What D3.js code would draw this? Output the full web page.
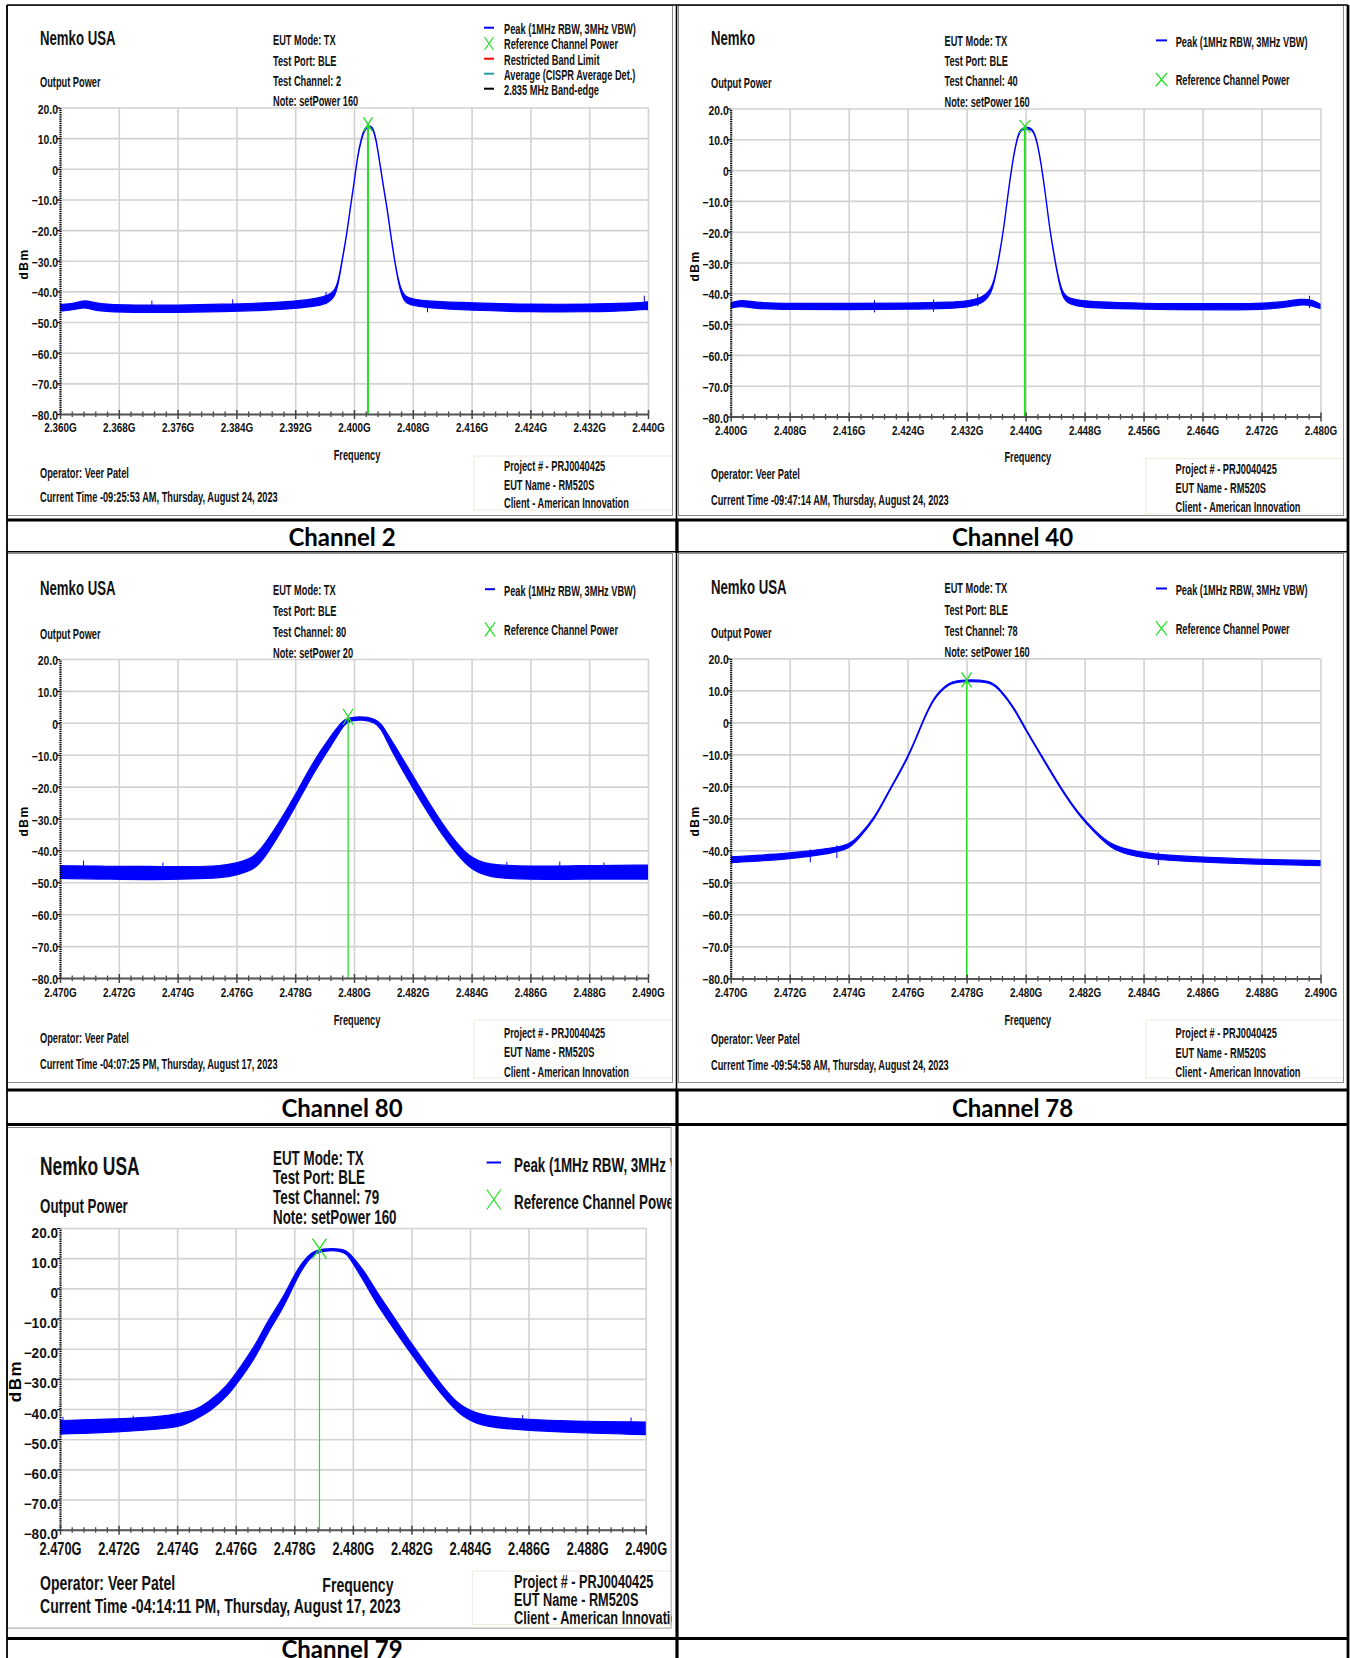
<!DOCTYPE html>
<html>
<head>
<meta charset="utf-8">
<script src="https://d3js.org/d3.v7.min.js"></script>
<style>
body { margin: 0; background: #fff; }
svg { display: block; font-family: "Liberation Sans", Arial, sans-serif; }
</style>
</head>
<body>
<div id="page"></div>
<script>
// ---------- values ----------
var yTicks = [20, 10, 0, -10, -20, -30, -40, -50, -60, -70, -80];
var ch2Ticks = [2.360, 2.368, 2.376, 2.384, 2.392, 2.400, 2.408, 2.416, 2.424, 2.432, 2.440];
var ch40Ticks = [2.400, 2.408, 2.416, 2.424, 2.432, 2.440, 2.448, 2.456, 2.464, 2.472, 2.480];
var topBandTicks = [2.470, 2.472, 2.474, 2.476, 2.478, 2.480, 2.482, 2.484, 2.486, 2.488, 2.490];

// peak trace: frequency (GHz), upper and lower edge of the noisy trace (dBm)
var ch2Freq = [2.360, 2.362, 2.3635, 2.365, 2.370, 2.376, 2.382, 2.388, 2.392, 2.395, 2.3965, 2.3975, 2.398, 2.3985, 2.399, 2.3995, 2.400, 2.4005, 2.401, 2.4015, 2.402, 2.4025, 2.403, 2.4035, 2.404, 2.4045, 2.405, 2.4055, 2.406, 2.4065, 2.407, 2.408, 2.410, 2.416, 2.424, 2.432, 2.438, 2.4395, 2.440];
var ch2Hi = [-44.3, -44.0, -42.6, -44.2, -44.5, -44.5, -44.2, -43.8, -43.2, -42.3, -41.3, -39.6, -35.0, -28.0, -21.4, -12.4, -4.5, 4.6, 10.2, 13.6, 14.0, 14.0, 10.2, 2.3, -5.6, -12.4, -21.4, -29.3, -36.0, -40.0, -41.7, -42.5, -43.2, -43.8, -44.2, -44.2, -43.8, -43.5, -43.4];
var ch2Lo = [-46.4, -46.0, -45.0, -46.6, -46.9, -46.9, -46.6, -46.2, -45.6, -44.8, -43.8, -41.5, -35.8, -28.6, -21.9, -12.9, -5.0, 4.0, 9.6, 13.0, 13.5, 13.5, 9.6, 1.8, -6.1, -12.9, -21.9, -29.8, -36.6, -41.5, -43.8, -44.6, -45.4, -46.2, -46.7, -46.7, -46.3, -45.8, -46.0];
var ch2Spikes = [[2.3725, -43.0], [2.3835, -42.6], [2.3962, -40.2], [2.4100, -42.8], [2.4395, -41.4]];
var ch2Marker = [2.4019, 14.5];

var ch40Freq = [2.400, 2.4015, 2.403, 2.408, 2.416, 2.424, 2.430, 2.432, 2.434, 2.4353, 2.4359, 2.4365, 2.4371, 2.4376, 2.4382, 2.4388, 2.4393, 2.4399, 2.4409, 2.4415, 2.4421, 2.4427, 2.4432, 2.4438, 2.4444, 2.445, 2.4459, 2.4477, 2.452, 2.460, 2.468, 2.474, 2.4775, 2.479, 2.480];
var ch40Hi = [-43.1, -42.0, -43.0, -43.3, -43.3, -43.2, -42.9, -42.5, -41.6, -38.9, -34.4, -26.6, -17.7, -7.6, 2.5, 10.3, 13.4, 13.9, 13.9, 10.3, 2.5, -7.6, -17.7, -26.6, -34.4, -40.0, -41.7, -42.5, -43.0, -43.4, -43.4, -43.2, -41.6, -42.3, -43.6];
var ch40Lo = [-44.8, -44.0, -45.0, -45.3, -45.3, -45.2, -44.9, -44.5, -43.6, -40.6, -35.0, -27.1, -18.2, -8.1, 2.0, 9.8, 12.9, 13.4, 13.4, 9.8, 2.0, -8.1, -18.2, -27.1, -35.0, -41.5, -43.6, -44.6, -45.0, -45.4, -45.4, -45.2, -43.4, -44.2, -45.0];
var ch40Spikes = [[2.4195, -42.2], [2.4275, -42.0], [2.4335, -40.2], [2.4785, -40.8]];
var ch40Marker = [2.4399, 14.2];

var ch80Freq = [2.4700, 2.4716, 2.4730, 2.4745, 2.4755, 2.4760, 2.4765, 2.4768, 2.4774, 2.4780, 2.4786, 2.4792, 2.4796, 2.4798, 2.4808, 2.4811, 2.4815, 2.4821, 2.4827, 2.4833, 2.4839, 2.4845, 2.4860, 2.4875, 2.4900];
var ch80Hi = [-44.8, -45.0, -45.0, -45.2, -44.8, -44.0, -42.5, -40.2, -32.1, -22.8, -12.3, -4.2, 0.5, 1.9, 1.9, -3.0, -8.8, -18.1, -27.4, -35.6, -42.0, -44.6, -45.0, -44.8, -44.6];
var ch80Lo = [-48.8, -49.0, -49.2, -49.0, -48.6, -47.8, -46.2, -44.5, -36.0, -26.5, -16.0, -7.5, -1.5, 1.0, 1.0, -5.5, -12.5, -22.0, -31.0, -39.0, -45.5, -48.5, -49.2, -49.0, -49.0];
var ch80Spikes = [[2.4708, -43.2], [2.4735, -43.8], [2.4852, -43.6], [2.4870, -43.5], [2.4885, -43.8]];
var ch80Marker = [2.4798, 1.9];

var ch78Freq = [2.4700, 2.4720, 2.4735, 2.4740, 2.4743, 2.4749, 2.4754, 2.4760, 2.4765, 2.4769, 2.4774, 2.4777, 2.4788, 2.4791, 2.4796, 2.4800, 2.4806, 2.4812, 2.4818, 2.4824, 2.4829, 2.4834, 2.4841, 2.4856, 2.4878, 2.4900];
var ch78Hi = [-42.0, -41.0, -39.2, -38.2, -36.0, -29.7, -20.5, -11.2, 0.3, 8.4, 12.5, 13.3, 13.3, 10.8, 5.0, -2.0, -11.2, -20.5, -28.6, -34.4, -38.2, -39.6, -41.0, -42.0, -42.8, -43.2];
var ch78Lo = [-43.8, -42.8, -40.8, -39.5, -36.8, -30.2, -21.0, -11.7, -0.2, 7.9, 12.0, 12.8, 12.8, 10.3, 4.5, -2.5, -11.7, -21.0, -29.1, -35.0, -39.4, -41.2, -42.6, -43.6, -44.3, -44.8];
var ch78Spikes = [[2.4727, -39.7], [2.4736, -38.4], [2.4845, -40.6]];
var ch78Marker = [2.4780, 13.3];

var ch79Freq = [2.4700, 2.4720, 2.4735, 2.4742, 2.4746, 2.4751, 2.4757, 2.4762, 2.4767, 2.4771, 2.4776, 2.4780, 2.4783, 2.4786, 2.4789, 2.4797, 2.4799, 2.4804, 2.4808, 2.4813, 2.4819, 2.4825, 2.4831, 2.4836, 2.4842, 2.4850, 2.4872, 2.4900];
var ch79Hi = [-43.8, -43.3, -42.5, -41.2, -40.5, -37.5, -32.5, -25.5, -18.5, -10.5, -3.5, 4.5, 9.0, 12.0, 13.2, 13.2, 11.5, 5.7, -1.0, -8.0, -17.0, -25.0, -33.0, -38.5, -41.5, -43.0, -44.0, -44.3];
var ch79Lo = [-48.3, -47.6, -46.6, -45.6, -43.5, -41.0, -36.0, -29.5, -22.5, -14.5, -7.0, 1.5, 7.0, 10.8, 12.5, 12.5, 10.0, 2.0, -5.0, -12.0, -20.5, -28.5, -36.0, -41.5, -45.0, -46.5, -47.8, -48.5];
var ch79Spikes = [[2.4701, -42.6], [2.4725, -42.2], [2.4858, -42.0], [2.4895, -42.8]];
var ch79Marker = [2.47886, 13.2];

var companies = ["Nemko USA", "Nemko", "Nemko USA", "Nemko USA", "Nemko USA"];
var testChannels = [2, 40, 80, 78, 79];
var setPowers = [160, 160, 20, 160, 160];
var currentTimes = [
    "09:25:53 AM, Thursday, August 24, 2023",
    "09:47:14 AM, Thursday, August 24, 2023",
    "04:07:25 PM, Thursday, August 17, 2023",
    "09:54:58 AM, Thursday, August 24, 2023",
    "04:14:11 PM, Thursday, August 17, 2023"
];
var legendLong = ["Peak (1MHz RBW, 3MHz VBW)", "Reference Channel Power", "Restricted Band Limit", "Average (CISPR Average Det.)", "2.835 MHz Band-edge"];
var legendShort = ["Peak (1MHz RBW, 3MHz VBW)", "Reference Channel Power"];
var projectLines = ["Project # - PRJ0040425", "EUT Name - RM520S", "Client - American Innovation"];
var captions = ["Channel 2", "Channel 40", "Channel 80", "Channel 78", "Channel 79"];

// ---------- layout ----------
var legendColors = ["#0000ff", "#22e022", "#ff0000", "#2a9d9d", "#000000"];
var blue = "#0000ff", green = "#22e022";

var panels = [
    { box: [7, 5, 673, 516], plot: [60, 107.5, 648, 414], ticks: ch2Ticks,
      freq: ch2Freq, hi: ch2Hi, lo: ch2Lo, spikes: ch2Spikes, marker: ch2Marker, legend: legendLong,
      title: [40, 45, 20], sub: [40, 87, 14], info: [273, [45, 65.5, 86, 106], 14],
      leg: [484, 494, 504, [34, 49, 65, 80, 95], 14], legX: [9, 13],
      dbm: [24, 264, 12], freqLab: [357, 460, 14], oper: [40, [477.5, 501.5], 14],
      pbox: [474, 456, 673, 510], ptxt: [504, [470.5, 489.5, 508], 14],
      xt: [13, 0.76, 18.5], yt: [13, 0.8, 5.5], sx: 0.66, markW: 2, markX: [9, 14] },
    { box: [678, 5, 1344, 516], plot: [730.7, 108.5, 1320.5, 416.5], ticks: ch40Ticks,
      freq: ch40Freq, hi: ch40Hi, lo: ch40Lo, spikes: ch40Spikes, marker: ch40Marker, legend: legendShort,
      title: [711, 45, 20], sub: [711, 88, 14], info: [944.5, [45.5, 66, 86, 106.5], 14],
      leg: [1156, 1167, 1175.7, [46.7, 85], 14], legX: [11, 13],
      dbm: [695, 266, 12], freqLab: [1027.8, 462, 14], oper: [711, [479, 505], 14],
      pbox: [1146, 458.6, 1344, 513.8], ptxt: [1175.6, [474, 493, 512], 14],
      xt: [13, 0.76, 18.5], yt: [13, 0.8, 5.5], sx: 0.66, markW: 2, markX: [11, 13] },
    { box: [7, 553, 673, 1083], plot: [60, 659, 648, 978], ticks: topBandTicks,
      freq: ch80Freq, hi: ch80Hi, lo: ch80Lo, spikes: ch80Spikes, marker: ch80Marker, legend: legendShort,
      title: [40, 594.8, 20], sub: [40, 639, 14], info: [273, [594.8, 615.8, 637, 657.6], 14],
      leg: [485, 495, 504, [595.5, 635.4], 14], legX: [10, 14],
      dbm: [24, 821, 12], freqLab: [357, 1024.6, 14], oper: [40, [1043, 1069], 14],
      pbox: [474, 1020, 673, 1078], ptxt: [504, [1037.6, 1057, 1077], 14],
      xt: [13, 0.76, 19], yt: [13, 0.8, 5.5], sx: 0.66, markW: 1.3, markX: [10, 16] },
    { box: [678, 553, 1344, 1083], plot: [730.7, 658.4, 1320.5, 978.4], ticks: topBandTicks,
      freq: ch78Freq, hi: ch78Hi, lo: ch78Lo, spikes: ch78Spikes, marker: ch78Marker, legend: legendShort,
      title: [711, 593.6, 20], sub: [711, 638, 14], info: [944.5, [593, 615, 636, 656.5], 14],
      leg: [1156, 1167, 1175.7, [594.8, 634.3], 14], legX: [11, 14],
      dbm: [695, 821, 12], freqLab: [1027.8, 1025.4, 14], oper: [711, [1044, 1070], 14],
      pbox: [1146, 1020, 1344, 1078], ptxt: [1175.6, [1038, 1058, 1077], 14],
      xt: [13, 0.76, 19], yt: [13, 0.8, 5.5], sx: 0.66, markW: 1.3, markX: [10, 15] },
    { box: [7, 1127, 671.7, 1628.7], plot: [60, 1228, 645.7, 1529.7], ticks: topBandTicks,
      freq: ch79Freq, hi: ch79Hi, lo: ch79Lo, spikes: ch79Spikes, marker: ch79Marker, legend: legendShort,
      title: [40, 1175, 26], sub: [40, 1213, 20], info: [273, [1164.6, 1184, 1204, 1224], 20],
      leg: [486.6, 501, 514, [1171.5, 1208.5], 20], legX: [14, 20],
      dbm: [15, 1381, 17], freqLab: [357.9, 1592, 21], oper: [40, [1589.7, 1613], 21],
      pbox: [472.7, 1571, 672, 1624.5], ptxt: [514, [1588, 1606, 1624], 19],
      xt: [18, 0.71, 25], yt: [14, 0.97, 9], sx: 0.67, markW: 1.2, markX: [14, 20] }
];

var svg = d3.select("#page").append("svg")
    .attr("width", 1350)
    .attr("height", 1658);

svg.append("rect").attr("width", 1350).attr("height", 1658).attr("fill", "#fff");

var defs = svg.append("defs");

function say(g, x, y, s, size, sx, anchor) {
    return g.append("text")
        .attr("transform", "translate(" + x + "," + y + ") scale(" + sx + ",1)")
        .attr("text-anchor", anchor || "start")
        .attr("fill", "#111")
        .style("font-size", size + "px")
        .style("font-weight", "bold")
        .text(s);
}

function xMark(g, cx, cy, w, h, width) {
    g.append("path")
        .attr("d", "M" + (cx - w / 2) + "," + (cy - h / 2) + "L" + (cx + w / 2) + "," + (cy + h / 2) +
            "M" + (cx - w / 2) + "," + (cy + h / 2) + "L" + (cx + w / 2) + "," + (cy - h / 2))
        .attr("stroke", green)
        .attr("stroke-width", width)
        .attr("fill", "none");
}

function fmtDb(v) {
    return v === 0 ? "0" : d3.format(".1f")(v);
}

function drawPanel(p, i) {
    var g = svg.append("g");
    var l = p.plot[0], t = p.plot[1], r = p.plot[2], b = p.plot[3];

    // panel 5 is a cropped screenshot: clip everything to its frame
    defs.append("clipPath").attr("id", "frame" + i)
        .append("rect")
        .attr("x", p.box[0]).attr("y", p.box[1])
        .attr("width", p.box[2] - p.box[0]).attr("height", p.box[3] - p.box[1]);
    g.attr("clip-path", "url(#frame" + i + ")");

    defs.append("clipPath").attr("id", "plot" + i)
        .append("rect")
        .attr("x", l).attr("y", t - 12)
        .attr("width", r - l).attr("height", b - t + 12);

    var x = d3.scaleLinear()
        .domain([p.ticks[0], p.ticks[p.ticks.length - 1]])
        .range([l, r]);
    var y = d3.scaleLinear()
        .domain([-80, 20])
        .range([b, t]);

    // gridlines
    var gy = g.append("g")
        .attr("transform", "translate(" + l + ",0)")
        .call(d3.axisLeft(y).tickValues(yTicks).tickSize(-(r - l)).tickFormat(""));
    gy.select(".domain").remove();
    gy.selectAll("line").attr("stroke", "#d2d2d2").attr("stroke-width", 1.6);

    var gx = g.append("g")
        .attr("transform", "translate(0," + b + ")")
        .call(d3.axisBottom(x).tickValues(p.ticks).tickSize(-(b - t)).tickFormat(""));
    gx.select(".domain").remove();
    gx.selectAll("line").attr("stroke", "#d2d2d2").attr("stroke-width", 1.6);

    // peak trace as a band between its upper and lower edges
    var rows = p.freq.map(function (f, k) {
        return { f: f, hi: p.hi[k], lo: p.lo[k] };
    });
    var band = d3.area()
        .x(function (d) { return x(d.f); })
        .y0(function (d) { return y(d.lo); })
        .y1(function (d) { return y(d.hi); })
        .curve(d3.curveBasis);
    var trace = g.append("g").attr("clip-path", "url(#plot" + i + ")");
    trace.append("path")
        .datum(rows)
        .attr("d", band)
        .attr("fill", blue)
        .attr("stroke", blue)
        .attr("stroke-width", 1.2)
        .attr("stroke-linejoin", "round");
    trace.selectAll(".spike")
        .data(p.spikes)
        .enter().append("line")
        .attr("class", "spike")
        .attr("x1", function (d) { return x(d[0]); })
        .attr("x2", function (d) { return x(d[0]); })
        .attr("y1", function (d) { return y(d[1]); })
        .attr("y2", function (d) { return y(d[1] - 4); })
        .attr("stroke", blue)
        .attr("stroke-width", 1);

    // reference channel power marker
    g.append("line")
        .attr("x1", x(p.marker[0])).attr("x2", x(p.marker[0]))
        .attr("y1", y(p.marker[1])).attr("y2", b)
        .attr("stroke", green)
        .attr("stroke-width", p.markW);
    xMark(g, x(p.marker[0]), y(p.marker[1]), p.markX[0], p.markX[1], 1.3);

    // y axis (dotted black)
    var ya = g.append("g")
        .attr("transform", "translate(" + l + ",0)")
        .call(d3.axisLeft(y).tickValues(yTicks).tickSizeInner(3).tickSizeOuter(0).tickFormat(fmtDb));
    ya.select(".domain").attr("stroke", "#000").attr("stroke-width", 2.2).attr("stroke-dasharray", "1.2,1");
    ya.selectAll(".tick line").attr("stroke", "#000").attr("stroke-width", 1.2);
    ya.selectAll("text")
        .attr("x", -2 / p.yt[1])
        .attr("dy", null)
        .attr("y", p.yt[2])
        .attr("fill", "#111")
        .attr("transform", "scale(" + p.yt[1] + ",1)")
        .style("font-size", p.yt[0] + "px")
        .style("font-weight", "bold")
        .style("font-family", "'Liberation Sans', Arial, sans-serif");

    // x axis with minor ticks
    var step = (p.ticks[1] - p.ticks[0]) / 5;
    var minor = d3.range(0, (p.ticks.length - 1) * 5)
        .filter(function (k) { return k % 5 !== 0; })
        .map(function (k) { return p.ticks[0] + k * step; });
    var xm = g.append("g")
        .attr("transform", "translate(0," + b + ")")
        .call(d3.axisBottom(x).tickValues(minor).tickSize(3).tickFormat(""));
    xm.select(".domain").remove();
    xm.selectAll("line").attr("y1", -2.5).attr("stroke", "#444").attr("stroke-width", 1.3);

    var xa = g.append("g")
        .attr("transform", "translate(0," + b + ")")
        .call(d3.axisBottom(x).tickValues(p.ticks).tickSizeInner(5).tickSizeOuter(0)
            .tickFormat(function (d) { return d3.format(".3f")(d) + "G"; }));
    xa.select(".domain").attr("stroke", "#555").attr("stroke-width", 2);
    xa.selectAll(".tick line").attr("y1", -4).attr("stroke", "#444").attr("stroke-width", 1.5);
    xa.selectAll("text")
        .attr("y", p.xt[2])
        .attr("dy", null)
        .attr("fill", "#111")
        .attr("transform", "scale(" + p.xt[1] + ",1)")
        .style("font-size", p.xt[0] + "px")
        .style("font-weight", "bold")
        .style("font-family", "'Liberation Sans', Arial, sans-serif");

    // header
    say(g, p.title[0], p.title[1], companies[i], p.title[2], p.sx);
    say(g, p.sub[0], p.sub[1], "Output Power", p.sub[2], p.sx);
    var info = ["EUT Mode: TX", "Test Port: BLE", "Test Channel: " + testChannels[i], "Note: setPower " + setPowers[i]];
    info.forEach(function (s, k) {
        say(g, p.info[0], p.info[1][k], s, p.info[2], p.sx);
    });

    // legend
    p.legend.forEach(function (s, k) {
        var by = p.leg[3][k];
        if (k === 1) {
            xMark(g, (p.leg[0] + p.leg[1]) / 2, by - p.legX[1] / 2 + 1, p.legX[0], p.legX[1], 1.2);
        } else {
            g.append("line")
                .attr("x1", p.leg[0]).attr("x2", p.leg[1])
                .attr("y1", by - p.leg[4] * 0.45).attr("y2", by - p.leg[4] * 0.45)
                .attr("stroke", legendColors[k])
                .attr("stroke-width", 2);
        }
        say(g, p.leg[2], by, s, p.leg[4], p.sx);
    });

    // axis titles
    g.append("text")
        .attr("transform", "translate(" + p.dbm[0] + "," + p.dbm[1] + ") rotate(-90)")
        .attr("text-anchor", "middle")
        .attr("dy", "0.35em")
        .style("font-size", p.dbm[2] + "px")
        .style("font-weight", "bold")
        .style("letter-spacing", "1.5px")
        .text("dBm");
    say(g, p.freqLab[0], p.freqLab[1], "Frequency", p.freqLab[2], p.sx, "middle");

    // footer
    say(g, p.oper[0], p.oper[1][0], "Operator: Veer Patel", p.oper[2], p.sx);
    say(g, p.oper[0], p.oper[1][1], "Current Time -" + currentTimes[i], p.oper[2], p.sx);
    g.append("rect")
        .attr("x", p.pbox[0]).attr("y", p.pbox[1])
        .attr("width", p.pbox[2] - p.pbox[0]).attr("height", p.pbox[3] - p.pbox[1])
        .attr("fill", "none")
        .attr("stroke", "#f1eadc");
    projectLines.forEach(function (s, k) {
        say(g, p.ptxt[0], p.ptxt[1][k], s, p.ptxt[2], p.sx);
    });

    // screenshot frame
    g.append("rect")
        .attr("x", p.box[0] + 0.5).attr("y", p.box[1] + 0.5)
        .attr("width", p.box[2] - p.box[0] - 1).attr("height", p.box[3] - p.box[1] - 1)
        .attr("fill", "none")
        .attr("stroke", "#8a8a8a");
}

panels.forEach(drawPanel);

// ---------- surrounding table ----------
var grid = svg.append("g").attr("stroke", "#000");
function rule(x1, y1, x2, y2, w) {
    grid.append("line")
        .attr("x1", x1).attr("y1", y1).attr("x2", x2).attr("y2", y2)
        .attr("stroke-width", w);
}
rule(7, 5, 1348, 5, 1.5);
rule(7, 5, 7, 1658, 1.8);
rule(1348, 5, 1348, 1658, 2.8);
rule(676.5, 5, 676.5, 1090, 1.6);
rule(677, 519, 677, 553, 3.2);
rule(677, 1089, 677, 1658, 3.2);
rule(7, 520, 1348, 520, 3.2);
rule(7, 551.8, 1348, 551.8, 1.6);
rule(7, 1090, 1348, 1090, 3.2);
rule(7, 1124.5, 1348, 1124.5, 3.2);
rule(7, 1638.5, 1348, 1638.5, 3.2);

var capPos = [[342, 546], [1012.5, 546], [342, 1117], [1012.5, 1117], [342, 1658]];
captions.forEach(function (s, k) {
    svg.append("text")
        .attr("x", capPos[k][0])
        .attr("y", capPos[k][1])
        .attr("text-anchor", "middle")
        .attr("fill", "#000")
        .style("font-family", "Lato, 'Open Sans', sans-serif")
        .style("font-size", "24px")
        .style("font-weight", "bold")
        .text(s);
});
</script>
</body>
</html>
